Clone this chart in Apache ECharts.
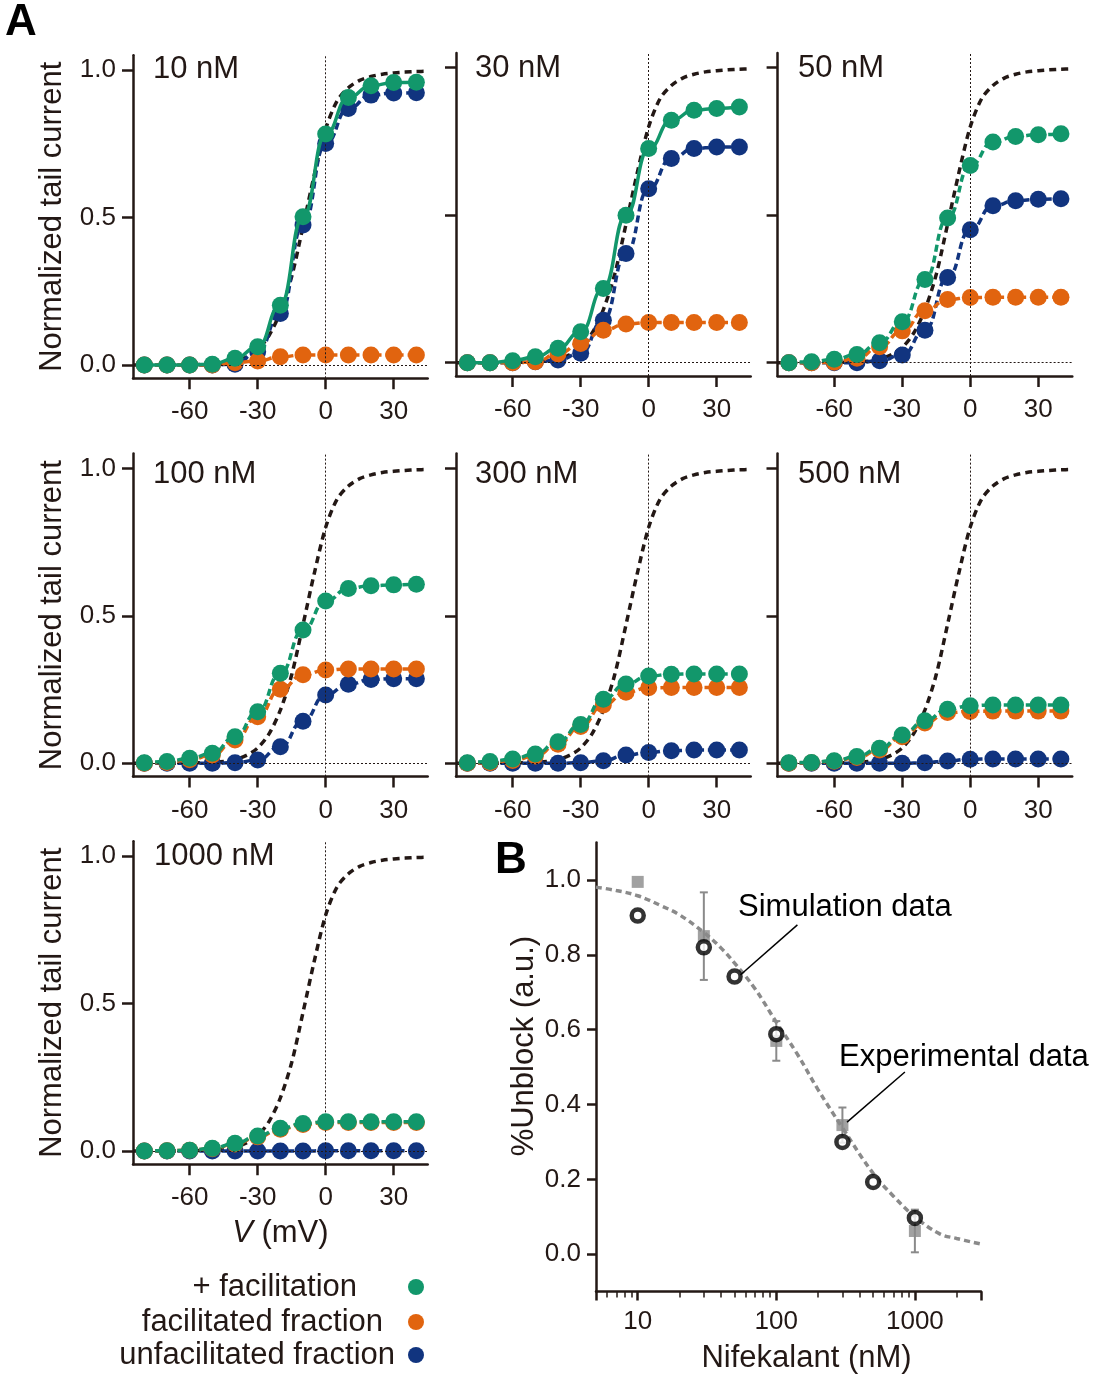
<!DOCTYPE html>
<html>
<head>
<meta charset="utf-8">
<script src="https://cdn.jsdelivr.net/npm/echarts@6/dist/echarts.min.js"></script>
<style>
  html, body { margin: 0; padding: 0; background: #fff; }
  #chart { width: 1098px; height: 1375px; }
</style>
</head>
<body>
<div id="chart"></div>
<script>
// ---- data ----
const voltages = [-80, -70, -60, -50, -40, -30, -20, -10, 0, 10, 20, 30, 40];
const panelTitles = ['10 nM', '30 nM', '50 nM', '100 nM', '300 nM', '500 nM', '1000 nM'];
const seriesNames = ['+ facilitation', 'facilitated fraction', 'unfacilitated fraction'];

// one row per nifekalant concentration
const withFacilitation = [
  [0, 0, 0, 0.003, 0.023, 0.062, 0.203, 0.503, 0.783, 0.907, 0.947, 0.958, 0.959],
  [0, 0, 0.007, 0.02, 0.049, 0.105, 0.252, 0.5, 0.726, 0.822, 0.856, 0.862, 0.867],
  [0, 0.003, 0.012, 0.028, 0.068, 0.139, 0.282, 0.491, 0.669, 0.748, 0.767, 0.773, 0.776],
  [0.002, 0.006, 0.017, 0.034, 0.09, 0.175, 0.305, 0.452, 0.55, 0.593, 0.602, 0.605, 0.607],
  [0.002, 0.006, 0.015, 0.032, 0.073, 0.132, 0.217, 0.269, 0.296, 0.302, 0.303, 0.303, 0.303],
  [0.002, 0.003, 0.009, 0.023, 0.051, 0.096, 0.144, 0.183, 0.195, 0.198, 0.198, 0.198, 0.198],
  [0, 0.001, 0.003, 0.009, 0.026, 0.051, 0.077, 0.093, 0.099, 0.099, 0.099, 0.099, 0.099]
];
const facilitatedFraction = [
  [0, 0, 0, 0, 0.008, 0.014, 0.028, 0.034, 0.034, 0.034, 0.034, 0.034, 0.034],
  [0, 0, 0, 0.003, 0.03, 0.065, 0.11, 0.131, 0.136, 0.136, 0.136, 0.136, 0.136],
  [0, 0, 0.002, 0.015, 0.054, 0.108, 0.176, 0.214, 0.221, 0.222, 0.222, 0.222, 0.222],
  [0, 0.003, 0.012, 0.028, 0.079, 0.158, 0.251, 0.3, 0.316, 0.32, 0.32, 0.32, 0.32],
  [0, 0.002, 0.01, 0.025, 0.065, 0.125, 0.198, 0.241, 0.256, 0.257, 0.257, 0.257, 0.257],
  [0, 0.002, 0.007, 0.02, 0.045, 0.09, 0.137, 0.172, 0.176, 0.177, 0.177, 0.177, 0.177],
  [0, 0.001, 0.003, 0.008, 0.024, 0.048, 0.074, 0.09, 0.097, 0.097, 0.097, 0.097, 0.097]
];
const unfacilitatedFraction = [
  [0, 0, 0, 0, 0.003, 0.045, 0.175, 0.475, 0.751, 0.87, 0.915, 0.922, 0.923],
  [0, 0, 0, 0.003, 0.009, 0.032, 0.144, 0.37, 0.59, 0.692, 0.726, 0.731, 0.731],
  [0, 0, 0, 0, 0.007, 0.026, 0.11, 0.289, 0.451, 0.532, 0.549, 0.554, 0.556],
  [0, 0, 0, 0, 0.002, 0.011, 0.056, 0.143, 0.232, 0.268, 0.284, 0.287, 0.287],
  [0, 0, 0, 0, 0, 0.002, 0.009, 0.028, 0.037, 0.043, 0.045, 0.045, 0.045],
  [0, 0, 0, 0, 0, 0, 0.002, 0.008, 0.014, 0.015, 0.015, 0.015, 0.015],
  [0, 0, 0, 0, 0, 0, 0, 0, 0.001, 0.001, 0.001, 0.001, 0.001]
];

// drug-free control activation curve (black dashed)
const controlV = [-85, -80, -70, -60, -50, -45, -40, -35, -30, -25, -20, -15, -10, -5, 0, 5, 10, 15, 20, 25, 30, 35, 40, 45];
const controlI = [0, 0, 0, 0.001, 0.003, 0.006, 0.013, 0.027, 0.052, 0.1, 0.18, 0.3, 0.47, 0.645, 0.8, 0.895, 0.94, 0.965, 0.978, 0.986, 0.99, 0.993, 0.995, 0.996];

// panel B
const simConc = [10, 30, 50, 100, 300, 500, 1000];
const simUnblock = [0.905, 0.82, 0.742, 0.588, 0.3, 0.193, 0.097];
const expConc = [10, 30, 100, 300, 1000];
const expUnblock = [0.995, 0.85, 0.57, 0.345, 0.062];
const expErr = [0, 0.117, 0.053, 0.047, 0.057];
const fitConc = [5, 7, 10, 15, 20, 30, 40, 50, 70, 100, 140, 200, 300, 500, 700, 1000, 1500, 2000, 3000];
const fitUnblock = [0.981, 0.972, 0.958, 0.93, 0.907, 0.86, 0.818, 0.778, 0.71, 0.62, 0.538, 0.44, 0.338, 0.216, 0.155, 0.1, 0.055, 0.042, 0.027];

// ticks
const vTicks = [-60, -30, 0, 30];
const iTicks = [0, 0.5, 1];
const unblockTicks = [0, 0.2, 0.4, 0.6, 0.8, 1.0];
const concLabels = [10, 100, 1000];

// ---- styling ----
const FONT = '"Liberation Sans", Arial, sans-serif';
const INK = '#231815';
const GREEN = '#12976b';
const ORANGE = '#e1640f';
const NAVY = '#11347f';
const GRAY = '#8a8a8a';

const chart = echarts.init(document.getElementById('chart'));

const panelPos = [[133, 55.3], [456, 53], [777.6, 53], [133, 453.6], [456, 453.6], [777.5, 453.6], [133, 841.3]];
const titlePos = [[153, 53.5], [475, 52.7], [798, 52.7], [153, 458.5], [475, 458.5], [798, 458.5], [154, 841]];

const grids = [], xAxes = [], yAxes = [], series = [], titles = [];

function axisBase() {
  return {
    axisLine: { onZero: false, lineStyle: { color: INK, width: 2.5 } },
    axisTick: { length: 11, lineStyle: { color: INK, width: 2.5 } },
    splitLine: { show: false }
  };
}

function lineSeries(name, values, color, dashed, idx, z) {
  return {
    type: 'line', name: name, xAxisIndex: idx, yAxisIndex: idx, z: z,
    data: voltages.map((v, k) => [v, values[k]]),
    smooth: 0.5, smoothMonotone: 'x',
    symbol: 'circle', symbolSize: 17,
    itemStyle: { color: color },
    lineStyle: { color: color, width: 3.5, type: dashed ? [7, 4] : 'solid' },
    emphasis: { disabled: true }
  };
}

panelTitles.forEach((title, i) => {
  const firstCol = i % 3 === 0;
  grids.push({ left: panelPos[i][0], top: panelPos[i][1], width: 294.7, height: 323 });
  const xa = Object.assign(axisBase(), {
    gridIndex: i, type: 'value', min: -85, max: 45,
    axisLabel: { customValues: vTicks, margin: 21, color: INK, fontSize: 26, fontFamily: FONT }
  });
  xa.axisTick.customValues = vTicks;
  if (i === 6) {
    xa.name = '{i|V} (mV)';
    xa.nameLocation = 'middle';
    xa.nameGap = 54;
    xa.nameTextStyle = { color: INK, fontSize: 31, fontFamily: FONT,
      rich: { i: { fontStyle: 'italic', fontSize: 31, fontFamily: FONT, color: INK } } };
  }
  xAxes.push(xa);

  const ya = Object.assign(axisBase(), {
    gridIndex: i, type: 'value', min: -0.045, max: 1.05,
    axisLabel: { show: firstCol, customValues: iTicks, margin: 17, color: INK, fontSize: 26, fontFamily: FONT,
      formatter: v => v.toFixed(1) }
  });
  ya.axisTick.customValues = iTicks;
  if (firstCol) {
    ya.name = 'Normalized tail current';
    ya.nameLocation = 'middle';
    ya.nameGap = 65;
    ya.nameTextStyle = { color: INK, fontSize: 31, fontFamily: FONT };
  }
  yAxes.push(ya);

  titles.push({ text: title, left: titlePos[i][0], top: titlePos[i][1], padding: 0,
    textStyle: { color: INK, fontSize: 31, fontWeight: 'normal', fontFamily: FONT } });

  // control curve with dotted zero guides
  series.push({
    type: 'line', name: 'control', xAxisIndex: i, yAxisIndex: i, z: 2,
    data: controlV.map((v, k) => [v, controlI[k]]),
    smooth: 0.3, showSymbol: false, symbol: 'none',
    lineStyle: { color: INK, width: 3.5, type: [7, 5] },
    emphasis: { disabled: true },
    markLine: {
      silent: true, symbol: 'none', label: { show: false }, animation: false,
      lineStyle: { color: INK, width: 1, type: [2, 2] },
      data: [{ xAxis: 0 }, { yAxis: 0 }]
    }
  });
  const solidGreen = i < 2;
  series.push(lineSeries(seriesNames[2], unfacilitatedFraction[i], NAVY, true, i, 3));
  series.push(lineSeries(seriesNames[1], facilitatedFraction[i], ORANGE, true, i, 4));
  series.push(lineSeries(seriesNames[0], withFacilitation[i], GREEN, !solidGreen, i, 5));
});

// ---- panel B ----
const bi = 7;
grids.push({ left: 596, top: 842.6, width: 385, height: 449 });
const xb = Object.assign(axisBase(), {
  gridIndex: bi, type: 'log', logBase: 10, min: 5, max: 3000,
  axisLabel: { margin: 17, color: INK, fontSize: 26, fontFamily: FONT,
    formatter: v => concLabels.includes(Math.round(v)) ? String(Math.round(v)) : '' },
  minorTick: { show: true, splitNumber: 9, length: 6, lineStyle: { color: INK, width: 1.5 } },
  name: 'Nifekalant (nM)', nameLocation: 'middle', nameGap: 51,
  nameTextStyle: { color: INK, fontSize: 31, fontFamily: FONT, padding: [0, 0, 0, 36] }
});
xb.axisTick.length = 9;
xAxes.push(xb);
const yb = Object.assign(axisBase(), {
  gridIndex: bi, type: 'value', min: -0.1, max: 1.1,
  axisLabel: { customValues: unblockTicks, margin: 15, color: INK, fontSize: 26, fontFamily: FONT,
    formatter: v => v.toFixed(1) },
  name: '%Unblock (a.u.)', nameLocation: 'middle', nameGap: 56,
  nameTextStyle: { color: INK, fontSize: 31, fontFamily: FONT, padding: [0, 0, 0, 42] }
});
yb.axisTick.customValues = unblockTicks;
yb.axisTick.length = 9;
yAxes.push(yb);

series.push({
  type: 'custom', name: 'error', xAxisIndex: bi, yAxisIndex: bi, z: 2,
  data: expConc.map((c, k) => [c, expUnblock[k] - expErr[k], expUnblock[k] + expErr[k]]).filter((d, k) => expErr[k] > 0),
  renderItem: function (params, api) {
    const lo = api.coord([api.value(0), api.value(1)]);
    const hi = api.coord([api.value(0), api.value(2)]);
    const st = { stroke: GRAY, lineWidth: 2 };
    return {
      type: 'group', children: [
        { type: 'line', shape: { x1: lo[0], y1: lo[1], x2: hi[0], y2: hi[1] }, style: st },
        { type: 'line', shape: { x1: hi[0] - 4, y1: hi[1], x2: hi[0] + 4, y2: hi[1] }, style: st },
        { type: 'line', shape: { x1: lo[0] - 4, y1: lo[1], x2: lo[0] + 4, y2: lo[1] }, style: st }
      ]
    };
  }
});
series.push({
  type: 'scatter', name: 'Experimental data', xAxisIndex: bi, yAxisIndex: bi, z: 3,
  data: expConc.map((c, k) => [c, expUnblock[k]]),
  symbol: 'rect', symbolSize: 12, itemStyle: { color: GRAY }, emphasis: { disabled: true }
});
series.push({
  type: 'line', name: 'fit', xAxisIndex: bi, yAxisIndex: bi, z: 4,
  data: fitConc.map((c, k) => [c, fitUnblock[k]]),
  smooth: 0.4, showSymbol: false, symbol: 'none',
  lineStyle: { color: GRAY, width: 3.5, type: [6, 4] }, emphasis: { disabled: true }
});
series.push({
  type: 'scatter', name: 'Simulation data', xAxisIndex: bi, yAxisIndex: bi, z: 5,
  data: simConc.map((c, k) => [c, simUnblock[k]]),
  symbol: 'circle', symbolSize: 12,
  itemStyle: { color: '#fff', borderColor: '#000', borderWidth: 4.5 },
  emphasis: { disabled: true },
  markLine: {
    silent: true, symbol: 'none', label: { show: false }, animation: false,
    lineStyle: { color: '#000', width: 1.5, type: 'solid' },
    data: [
      [{ coord: [55, 0.746] }, { coord: [142, 0.88] }],
      [{ coord: [324, 0.353] }, { coord: [847, 0.487] }]
    ]
  }
});

// ---- legends (icon on the right of each label) ----
const legendTops = [1271.5, 1306.5, 1339.5];
const legendPads = [46, 20, 8];
const legends = seriesNames.map((n, k) => ({
  data: [n], right: 674, top: legendTops[k], orient: 'vertical', align: 'right',
  icon: 'circle', itemWidth: 16, itemHeight: 16, padding: 0, selectedMode: false,
  textStyle: { color: INK, fontSize: 31, fontFamily: FONT, padding: [0, legendPads[k], 0, 0] }
}));

chart.setOption({
  animation: false,
  backgroundColor: '#fff',
  title: titles,
  legend: legends,
  grid: grids,
  xAxis: xAxes,
  yAxis: yAxes,
  series: series,
  graphic: [
    { type: 'text', left: 5, top: 1, style: { text: 'A', fill: '#000', font: 'bold 44px ' + FONT } },
    { type: 'text', left: 495, top: 839, style: { text: 'B', fill: '#000', font: 'bold 44px ' + FONT } },
    { type: 'text', left: 738, top: 892, style: { text: 'Simulation data', fill: '#000', font: '31px ' + FONT } },
    { type: 'text', left: 839, top: 1042, style: { text: 'Experimental data', fill: '#000', font: '31px ' + FONT } }
  ]
});
</script>
</body>
</html>
